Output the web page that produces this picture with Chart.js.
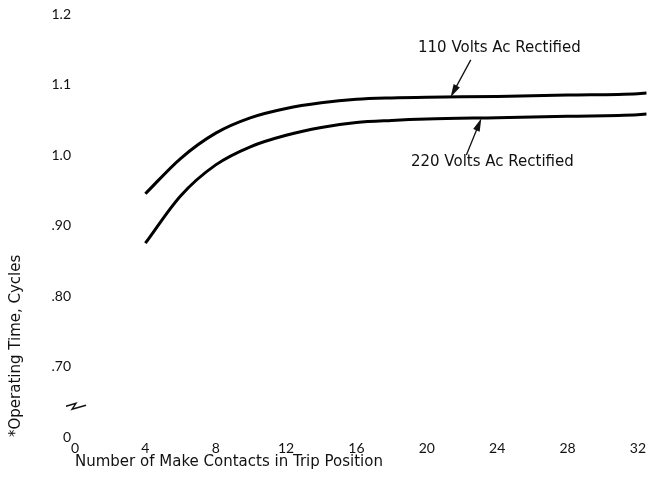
<!DOCTYPE html>
<html>
<head>
  <title>Operating Time vs Make Contacts</title>
  <script src="https://cdn.jsdelivr.net/npm/chart.js"></script>
  <style>
    html, body { margin: 0; background: #fff; }
    #wrap { width: 649px; height: 477px; position: relative; }
  </style>
</head>
<body>
  <div id="wrap"><canvas id="chart"></canvas></div>

  <script>
    // number of make contacts in trip position
    const contacts = [4, 6, 8, 10, 12, 14, 16, 18, 20, 24, 28, 32, 32.5];
    // operating time in cycles
    const volts110 = [0.945, 0.995, 1.031, 1.053, 1.066, 1.074, 1.079, 1.081, 1.082, 1.083, 1.085, 1.087, 1.088];
    const volts220 = [0.875, 0.942, 0.986, 1.012, 1.028, 1.039, 1.046, 1.049, 1.051, 1.053, 1.055, 1.057, 1.058];

    const xTickValues = [0, 4, 8, 12, 16, 20, 24, 28, 32];
    const yTickValues = [0.6, 0.7, 0.8, 0.9, 1.0, 1.1, 1.2];
    const yTickLabels = ['0', '.70', '.80', '.90', '1.0', '1.1', '1.2'];

    const TICK_FONT = 'Lato, "DejaVu Sans", sans-serif';
    const TEXT_FONT = '"DejaVu Sans", sans-serif';
    const INK = '#111';

    const pts = ys => contacts.map((x, i) => ({ x, y: ys[i] }));

    function arrow(ctx, x0, y0, x1, y1) {
      const a = Math.atan2(y1 - y0, x1 - x0);
      const len = 13, half = 3.5;
      ctx.beginPath();
      ctx.moveTo(x0, y0);
      ctx.lineTo(x1 - Math.cos(a) * len * 0.6, y1 - Math.sin(a) * len * 0.6);
      ctx.stroke();
      ctx.beginPath();
      ctx.moveTo(x1, y1);
      ctx.lineTo(x1 - Math.cos(a) * len + Math.sin(a) * half, y1 - Math.sin(a) * len - Math.cos(a) * half);
      ctx.lineTo(x1 - Math.cos(a) * len - Math.sin(a) * half, y1 - Math.sin(a) * len + Math.cos(a) * half);
      ctx.closePath();
      ctx.fill();
    }

    // curve labels with leader arrows, plus the axis-break mark
    const notes = {
      id: 'notes',
      afterDatasetsDraw(chart) {
        const { ctx, scales: { x, y } } = chart;
        const px = v => x.getPixelForValue(v);
        const py = v => y.getPixelForValue(v);
        ctx.save();
        ctx.fillStyle = INK;
        ctx.strokeStyle = INK;
        ctx.font = '15px ' + TEXT_FONT;
        ctx.textBaseline = 'middle';
        ctx.textAlign = 'left';
        ctx.fillText('110 Volts Ac Rectified', px(19.5), py(1.152));
        ctx.fillText('220 Volts Ac Rectified', px(19.1), py(0.990));

        ctx.lineWidth = 1.3;
        arrow(ctx, px(22.5), py(1.135), px(21.35), py(1.082));
        arrow(ctx, px(22.25), py(1.0), px(23.1), py(1.052));

        // break symbol on the value axis
        const bx = chart.chartArea.left, by = py(0.645);
        ctx.lineWidth = 1.4;
        ctx.beginPath();
        ctx.moveTo(bx - 9, by + 1);
        ctx.lineTo(bx + 1, by - 2);
        ctx.lineTo(bx - 3, by + 4);
        ctx.lineTo(bx + 11, by);
        ctx.stroke();
        ctx.restore();
      }
    };

    new Chart(document.getElementById('chart'), {
      type: 'line',
      data: {
        datasets: [
          { label: '110 Volts Ac Rectified', data: pts(volts110) },
          { label: '220 Volts Ac Rectified', data: pts(volts220) }
        ]
      },
      options: {
        responsive: true,
        maintainAspectRatio: false,
        animation: false,
        layout: { padding: { top: 14, right: 0, left: 0, bottom: 0 } },
        elements: {
          line: { borderColor: '#000', borderWidth: 3, cubicInterpolationMode: 'monotone', fill: false },
          point: { radius: 0 }
        },
        plugins: {
          legend: { display: false },
          tooltip: { enabled: false }
        },
        scales: {
          x: {
            type: 'linear',
            min: 0,
            max: 32.5,
            grid: { display: false, drawTicks: false },
            border: { display: false },
            afterBuildTicks: s => { s.ticks = xTickValues.map(v => ({ value: v })); },
            afterFit: s => { s.height = 40; },
            ticks: { color: INK, font: { family: TICK_FONT, size: 14 }, padding: 3, maxRotation: 0 },
            title: {
              display: true,
              text: 'Number of Make Contacts in Trip Position',
              align: 'start',
              color: INK,
              font: { family: TEXT_FONT, size: 15 },
              padding: { top: 0, bottom: 6 }
            }
          },
          y: {
            min: 0.6,
            max: 1.2,
            grid: { display: false, drawTicks: false },
            border: { display: false },
            afterBuildTicks: s => { s.ticks = yTickValues.map(v => ({ value: v })); },
            afterFit: s => { s.width = 75; },
            ticks: {
              color: INK,
              font: { family: TICK_FONT, size: 14 },
              padding: 4,
              callback: (v, i) => yTickLabels[i]
            },
            title: {
              display: true,
              text: '*Operating Time, Cycles',
              align: 'start',
              color: INK,
              font: { family: TEXT_FONT, size: 15 },
              padding: { top: 7, bottom: 0 }
            }
          }
        }
      },
      plugins: [notes]
    });
  </script>
</body>
</html>
